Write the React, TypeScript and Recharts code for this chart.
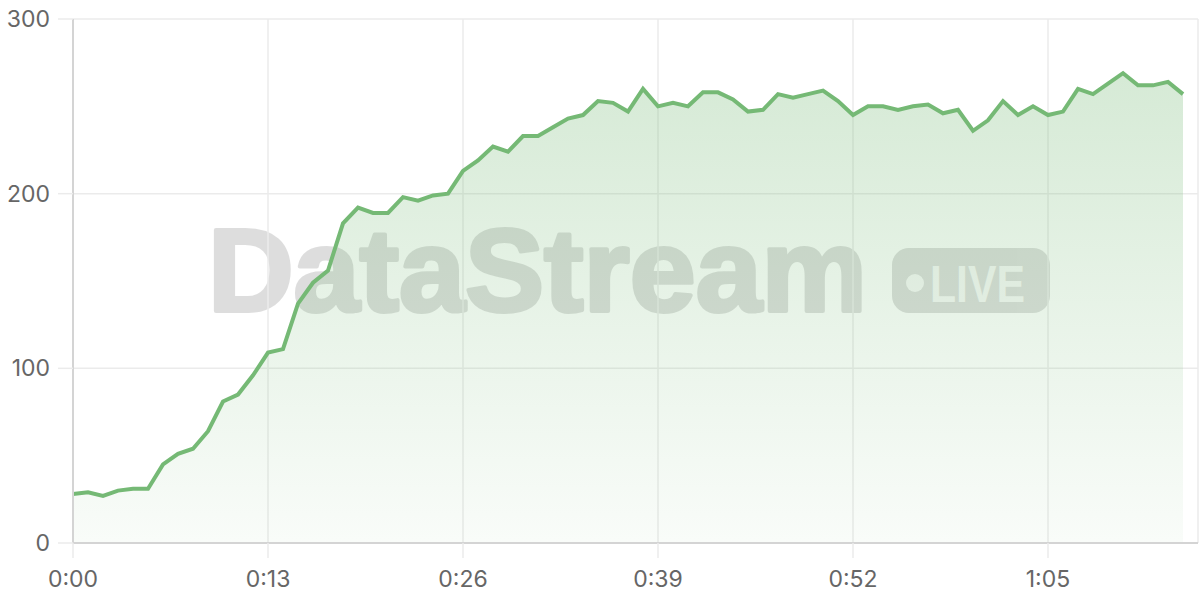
import React from 'react';
import { AreaChart, Area, XAxis, YAxis, CartesianGrid } from 'recharts';

// seconds since start, one sample per second
const seconds: number[] = Array.from({ length: 75 }, (_, i) => i);

// throughput values
const values: number[] = [
  28, 29, 27, 30, 31, 31, 45, 51, 54, 64,
  81, 85, 96, 109, 111, 137, 149, 156, 183, 192,
  189, 189, 198, 196, 199, 200, 213, 219, 227, 224,
  233, 233, 238, 243, 245, 253, 252, 247, 260, 250,
  252, 250, 258, 258, 254, 247, 248, 257, 255, 257,
  259, 253, 245, 250, 250, 248, 250, 251, 246, 248,
  236, 242, 253, 245, 250, 245, 247, 260, 257, 263,
  269, 262, 262, 264, 257,
];

const xTicks: number[] = [0, 13, 26, 39, 52, 65];
const yTicks: number[] = [0, 100, 200, 300];

const GREEN = '#75b975';

const fmtTime = (s: number) => `${Math.floor(s / 60)}:${String(s % 60).padStart(2, '0')}`;

const Watermark: React.FC = () => (
  <svg width={1200} height={600} style={{ position: 'absolute', left: 0, top: 0, zIndex: 0 }}>
    <g opacity={0.13}>
      <text
        x={208}
        y={311}
        fontFamily="'Liberation Sans', Arial, sans-serif"
        fontWeight={700}
        fontSize={116}
        textLength={659}
        lengthAdjust="spacingAndGlyphs"
        fill="#000"
        stroke="#000"
        strokeWidth={4}
        strokeLinejoin="round"
      >
        DataStream
      </text>
      <rect x={892} y={248} width={158} height={65} rx={17} fill="#000" />
    </g>
    <g opacity={0.8} fill="#fff">
      <circle cx={915} cy={283} r={9} />
      <text
        x={930}
        y={302}
        fontFamily="'Liberation Sans', Arial, sans-serif"
        fontWeight={700}
        fontSize={51}
        textLength={95}
        lengthAdjust="spacingAndGlyphs"
      >
        LIVE
      </text>
    </g>
  </svg>
);

const App: React.FC = () => {
  const data = seconds.map((t, i) => ({ t, v: values[i] }));
  const tickStyle = { fontSize: 23, fill: '#666666', fontFamily: 'Inter, sans-serif' };

  return (
    <div style={{ position: 'absolute', left: 0, top: 0, width: 1200, height: 600, background: '#fff' }}>
      <Watermark />
      <div style={{ position: 'absolute', left: 0, top: 0, zIndex: 1 }}>
        <AreaChart width={1200} height={600} data={data} margin={{ top: 19, right: 2, left: 0, bottom: 0 }}>
          <defs>
            <linearGradient id="fillGreen" x1="0" y1="0" x2="0" y2="1">
              <stop offset="0%" stopColor={GREEN} stopOpacity={0.5} />
              <stop offset="100%" stopColor={GREEN} stopOpacity={0.07} />
            </linearGradient>
          </defs>
          <CartesianGrid stroke="#ebebeb" strokeWidth={1.5} />
          <XAxis
            dataKey="t"
            type="number"
            domain={[0, 75]}
            ticks={xTicks}
            tickFormatter={fmtTime}
            height={57}
            tickSize={15}
            tickMargin={13}
            tick={tickStyle}
            tickLine={{ stroke: '#ebebeb', strokeWidth: 1.5 }}
            axisLine={{ stroke: '#d4d4d4', strokeWidth: 2 }}
          />
          <YAxis
            type="number"
            domain={[0, 300]}
            ticks={yTicks}
            width={73}
            tickSize={15}
            tickMargin={8}
            tick={tickStyle}
            tickLine={{ stroke: '#ebebeb', strokeWidth: 1.5 }}
            axisLine={{ stroke: '#d4d4d4', strokeWidth: 2 }}
          />
          <Area
            type="linear"
            dataKey="v"
            stroke={GREEN}
            strokeWidth={4}
            fill="url(#fillGreen)"
            dot={false}
            activeDot={false}
            isAnimationActive={false}
          />
        </AreaChart>
      </div>
    </div>
  );
};

export default App;
